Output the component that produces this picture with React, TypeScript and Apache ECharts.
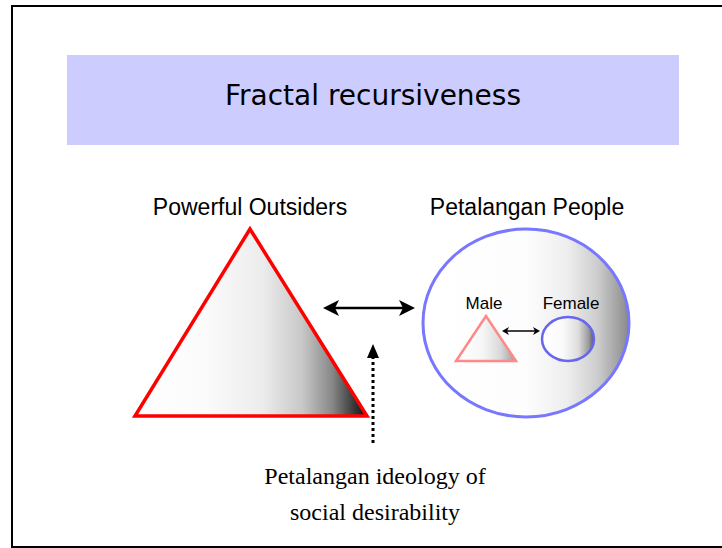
import React, { useEffect, useRef } from "react";
import * as echarts from "echarts";

const titleText = "Fractal recursiveness";
const groupLabels = ["Powerful Outsiders", "Petalangan People"];
const subLabels = ["Male", "Female"];
const captionLines = ["Petalangan ideology of", "social desirability"];

function grad(stops: [number, string][]) {
  return {
    type: "linear",
    x: 0,
    y: 0,
    x2: 1,
    y2: 0,
    colorStops: stops.map(([offset, color]) => ({ offset, color })),
  };
}

function arrowHead(tx: number, ty: number, dir: "left" | "right" | "up", len: number, half: number, notch: number) {
  let pts: number[][];
  if (dir === "left") {
    pts = [[tx, ty], [tx + len, ty - half], [tx + len - notch, ty], [tx + len, ty + half]];
  } else if (dir === "right") {
    pts = [[tx, ty], [tx - len, ty - half], [tx - len + notch, ty], [tx - len, ty + half]];
  } else {
    pts = [[tx, ty], [tx - half, ty + len], [tx, ty + len - notch], [tx + half, ty + len]];
  }
  return { type: "polygon", shape: { points: pts }, style: { fill: "#000" } };
}

function doubleArrow(x1: number, x2: number, y: number, w: number, len: number, half: number, notch: number) {
  return [
    { type: "line", shape: { x1: x1 + len - notch, y1: y, x2: x2 - len + notch, y2: y }, style: { stroke: "#000", lineWidth: w } },
    arrowHead(x1, y, "left", len, half, notch),
    arrowHead(x2, y, "right", len, half, notch),
  ];
}

export default function App() {
  const ref = useRef<HTMLDivElement>(null);
  useEffect(() => {
    if (!ref.current) return;
    const chart = echarts.init(ref.current, null, { renderer: "svg" });
    const sans = "'Liberation Sans', Arial, sans-serif";
    const serif = "'Liberation Serif', 'Times New Roman', serif";
    const elements: any[] = [
      { type: "rect", shape: { x: 12, y: 6, width: 720, height: 541 }, style: { fill: "#fff", stroke: "#000", lineWidth: 2 } },
      { type: "rect", shape: { x: 67, y: 55, width: 612, height: 90 }, style: { fill: "#ccccff" } },
      {
        type: "text", x: 373, y: 95,
        style: { text: titleText, fill: "#000", font: "28px 'DejaVu Sans', Verdana, sans-serif", textAlign: "center", textVerticalAlign: "middle" },
      },
      { type: "text", x: 250, y: 207, style: { text: groupLabels[0], fill: "#000", font: `23px ${sans}`, textAlign: "center", textVerticalAlign: "middle" } },
      { type: "text", x: 527, y: 207, style: { text: groupLabels[1], fill: "#000", font: `23px ${sans}`, textAlign: "center", textVerticalAlign: "middle" } },
      {
        type: "polygon",
        shape: { points: [[250, 229], [135, 416], [367, 416]] },
        style: {
          fill: grad([[0, "#ffffff"], [0.3, "#fbfbfb"], [0.55, "#ececec"], [0.72, "#c8c8c8"], [0.85, "#888888"], [0.95, "#333333"], [1, "#111111"]]),
          stroke: "#ff0000", lineWidth: 3.5, lineJoin: "miter",
        },
      },
      ...doubleArrow(323, 415, 308, 2.5, 16, 8, 4),
      { type: "line", shape: { x1: 373, y1: 356, x2: 373, y2: 446 }, style: { stroke: "#000", lineWidth: 3, lineDash: [3, 3] } },
      { type: "polygon", shape: { points: [[373, 344], [367, 358], [379, 358]] }, style: { fill: "#000" } },
      {
        type: "ellipse",
        shape: { cx: 526, cy: 323, rx: 103, ry: 94 },
        style: {
          fill: grad([[0, "#ffffff"], [0.5, "#fdfdfd"], [0.7, "#eeeeee"], [0.85, "#cccccc"], [0.95, "#a0a0a0"], [1, "#888888"]]),
          stroke: "#7777ff", lineWidth: 3,
        },
      },
      { type: "text", x: 484, y: 303, style: { text: subLabels[0], fill: "#000", font: `17px ${sans}`, textAlign: "center", textVerticalAlign: "middle" } },
      { type: "text", x: 571, y: 303, style: { text: subLabels[1], fill: "#000", font: `17px ${sans}`, textAlign: "center", textVerticalAlign: "middle" } },
      {
        type: "polygon",
        shape: { points: [[486, 316], [456, 361], [516, 361]] },
        style: {
          fill: grad([[0, "#ffffff"], [0.45, "#f6f6f6"], [0.75, "#d8d8d8"], [1, "#999999"]]),
          stroke: "#ff8888", lineWidth: 2.5,
        },
      },
      ...doubleArrow(502, 540, 331, 1.5, 7, 4, 2),
      {
        type: "ellipse",
        shape: { cx: 568, cy: 339, rx: 26, ry: 22 },
        style: {
          fill: grad([[0, "#ffffff"], [0.4, "#fafafa"], [0.7, "#dddddd"], [0.9, "#999999"], [1, "#555555"]]),
          stroke: "#6666ee", lineWidth: 2.5,
        },
      },
      { type: "text", x: 375, y: 476, style: { text: captionLines[0], fill: "#000", font: `24px ${serif}`, textAlign: "center", textVerticalAlign: "middle" } },
      { type: "text", x: 375, y: 512, style: { text: captionLines[1], fill: "#000", font: `24px ${serif}`, textAlign: "center", textVerticalAlign: "middle" } },
    ];
    chart.setOption({ animation: false, graphic: { elements } });
    return () => chart.dispose();
  }, []);
  return <div ref={ref} style={{ position: "fixed", left: 0, top: 0, width: 722, height: 548, background: "#fff" }} />;
}
